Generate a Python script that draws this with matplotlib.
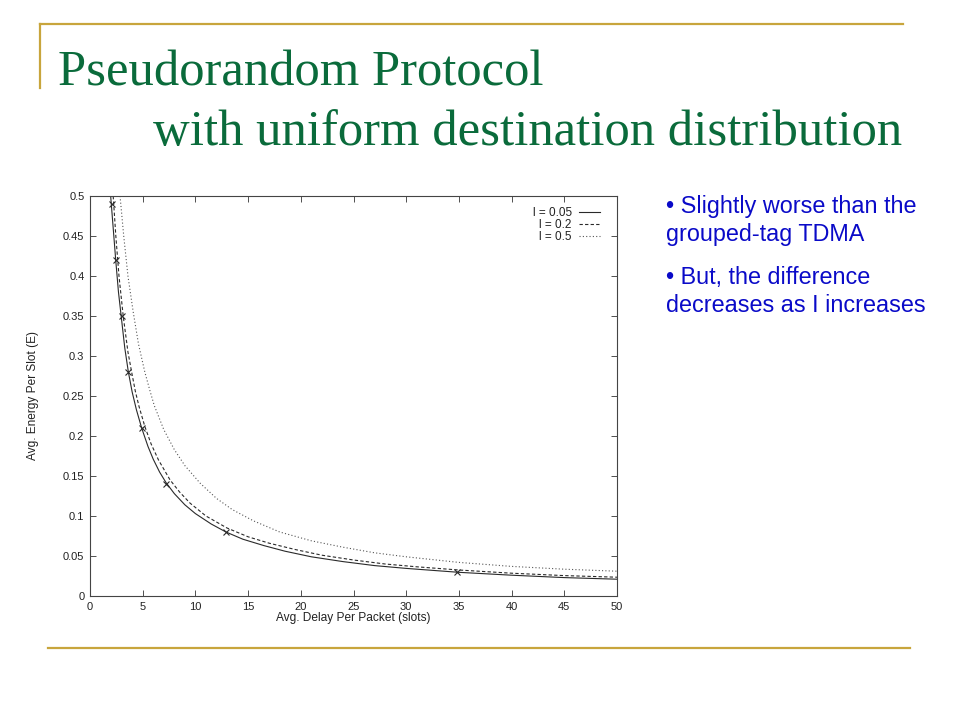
import matplotlib
matplotlib.use("Agg")
import matplotlib.pyplot as plt
from matplotlib.lines import Line2D
from matplotlib.ticker import FuncFormatter, MultipleLocator

# ---- data ----
d_l005 = [1.96, 2.2, 2.44, 2.7, 3.0, 3.3, 3.64, 4.0, 4.4, 4.9, 5.5, 6.0, 6.6, 7.2, 8.0, 9.0, 10.0,
          11.5, 12.9, 14.5, 16.5, 18.5, 21.0, 24.0, 27.0, 30.0, 35.0, 40.0, 45.0, 50.0]
e_l005 = [0.50, 0.46, 0.42, 0.38, 0.345, 0.31, 0.28, 0.255, 0.233, 0.21, 0.187, 0.171, 0.155, 0.142, 0.128, 0.114, 0.103,
          0.09, 0.08, 0.071, 0.063, 0.056, 0.049, 0.043, 0.038, 0.0345, 0.0296, 0.026, 0.023, 0.021]

d_l02 = [2.2, 2.45, 2.75, 3.15, 3.6, 3.95, 4.3, 4.65, 5.2, 5.8, 6.5, 7.6, 8.5, 9.5, 11.0, 13.0,
         15.0, 17.0, 19.5, 22.0, 25.0, 28.0, 31.0, 35.0, 40.0, 45.0, 50.0]
e_l02 = [0.50, 0.45, 0.40, 0.35, 0.305, 0.28, 0.256, 0.237, 0.212, 0.19, 0.17, 0.145, 0.13, 0.116, 0.10, 0.085,
         0.074, 0.066, 0.058, 0.051, 0.045, 0.040, 0.0365, 0.0325, 0.0285, 0.0255, 0.0235]

d_l05 = [2.85, 3.2, 3.6, 4.1, 4.6, 5.2, 5.7, 6.1, 7.0, 8.0, 9.0, 10.45, 12.0, 13.5, 15.5, 18.0,
         21.0, 24.0, 27.0, 30.0, 35.0, 40.0, 45.0, 50.0]
e_l05 = [0.50, 0.45, 0.40, 0.355, 0.315, 0.28, 0.256, 0.238, 0.208, 0.183, 0.163, 0.141, 0.122, 0.108, 0.094, 0.080,
         0.069, 0.061, 0.054, 0.049, 0.042, 0.037, 0.0335, 0.031]

d_marks = [2.06, 2.44, 3.0, 3.64, 4.91, 7.22, 12.9, 34.86]
e_marks = [0.49, 0.42, 0.35, 0.28, 0.21, 0.14, 0.08, 0.03]

series_labels = ["l = 0.05", "l = 0.2", "l = 0.5"]

title_line1 = "Pseudorandom Protocol"
title_line2 = "with uniform destination distribution"
bullets = ["\u2022 Slightly worse than the", "grouped-tag TDMA",
           "\u2022 But, the difference", "decreases as I increases"]

xlabel = "Avg. Delay Per Packet (slots)"
ylabel = "Avg. Energy Per Slot (E)"

# ---- figure ----
W, H = 960, 720
fig = plt.figure(figsize=(9.6, 7.2), dpi=100)
fig.patch.set_facecolor("white")

def fx(px):
    return px / W

def fy(py):
    return 1 - py / H

gold = "#C8A53C"
green = "#0A6B3B"
blue = "#0A0AC8"

# decorative lines
fig.add_artist(Line2D([fx(40), fx(903)], [fy(24), fy(24)], color=gold, lw=1.6, transform=fig.transFigure))
fig.add_artist(Line2D([fx(40), fx(40)], [fy(24), fy(88)], color=gold, lw=1.6, transform=fig.transFigure))
fig.add_artist(Line2D([fx(48), fx(910)], [fy(648), fy(648)], color=gold, lw=1.6, transform=fig.transFigure))

# title
fig.text(fx(58), fy(85), title_line1, family="Liberation Serif", fontsize=36.5, color=green, va="baseline", ha="left")
fig.text(fx(153), fy(145), title_line2, family="Liberation Serif", fontsize=36.5, color=green, va="baseline", ha="left")

# bullets
for txt, py in zip(bullets, [213, 241, 284, 312]):
    fig.text(fx(666), fy(py), txt, family="Liberation Sans", fontsize=16.8, color=blue, va="baseline", ha="left")

# axes
ax = fig.add_axes([fx(90), fy(596), fx(617) - fx(90), fy(196) - fy(596)])
lc = "#2a2a2a"
ax.plot(d_l005, e_l005, color=lc, lw=0.8, ls="-", label=series_labels[0])
ax.plot(d_l02, e_l02, color=lc, lw=0.8, ls=(0, (3, 2)), label=series_labels[1])
ax.plot(d_l05, e_l05, color="#555555", lw=0.8, ls=(0, (1, 2)), label=series_labels[2])
ax.plot(d_marks, e_marks, ls="none", marker="x", color=lc, ms=4.5, mew=0.8)

ax.set_xlim(0, 50)
ax.set_ylim(0, 0.5)
ax.xaxis.set_major_locator(MultipleLocator(5))
ax.yaxis.set_major_locator(MultipleLocator(0.05))
ax.yaxis.set_major_formatter(FuncFormatter(lambda v, p: "%g" % round(v, 2)))
ax.xaxis.set_major_formatter(FuncFormatter(lambda v, p: "%g" % v))
ax.tick_params(direction="in", top=True, right=True, length=4, width=0.6,
               labelsize=8, labelcolor="#222222", color="#333333", pad=4)
for lab in ax.get_xticklabels() + ax.get_yticklabels():
    lab.set_family("Liberation Sans")
for s in ax.spines.values():
    s.set_linewidth(0.8)
    s.set_color("#444444")

ax.set_xlabel(xlabel, family="Liberation Sans", fontsize=8.6, color="#222222")
ax.set_ylabel(ylabel, family="Liberation Sans", fontsize=8.6, color="#222222")
ax.xaxis.set_label_coords(0.5, (596 - 618) / 400)
ax.yaxis.set_label_coords((33 - 90) / 527, (596 - 395) / 400)
ax.xaxis.label.set_va("center")
ax.yaxis.label.set_va("center")

leg = ax.legend(loc="upper right", bbox_to_anchor=((600 - 90) / 527, (596 - 207) / 400),
                frameon=False, markerfirst=False, fontsize=8.5, handlelength=1.8,
                labelspacing=0.0, handletextpad=0.6, borderaxespad=0, borderpad=0)
for t in leg.get_texts():
    t.set_family("Liberation Sans")
    t.set_color("#222222")

fig.savefig("out.png", dpi=100)
